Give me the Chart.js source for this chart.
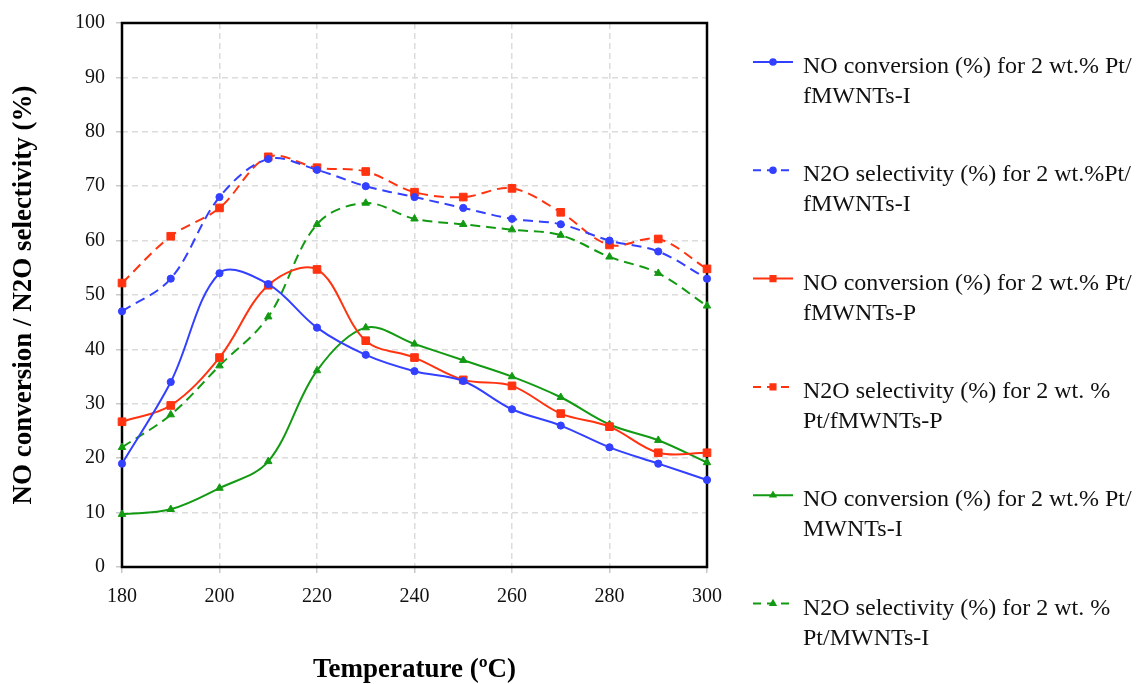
<!DOCTYPE html>
<html>
<head>
<meta charset="utf-8">
<style>
  html, body { margin: 0; padding: 0; background: #ffffff; }
  #wrap { width: 1136px; height: 684px; position: relative; }
</style>
<script src="https://cdn.jsdelivr.net/npm/chart.js@4/dist/chart.umd.min.js"></script>
</head>
<body>
<div id="wrap"><canvas id="chart" width="1136" height="684"></canvas></div>
<script>
// Reaction temperature (°C)
const temperatures = [180, 190, 200, 210, 220, 230, 240, 250, 260, 270, 280, 290, 300];

// 2 wt.% Pt/fMWNTs-I
const noConversionFI = [19, 34, 54, 52, 44, 39, 36, 34.2, 29, 26, 22, 19, 16];
const n2oSelectivityFI = [47, 53, 68, 75, 73, 70, 68, 66, 64, 63, 60, 58, 53];

// 2 wt.% Pt/fMWNTs-P
const noConversionFP = [26.7, 29.7, 38.5, 51.8, 54.7, 41.6, 38.5, 34.4, 33.3, 28.2, 25.8, 21, 21];
const n2oSelectivityFP = [52.2, 60.8, 66, 75.4, 73.4, 72.7, 68.9, 68, 69.6, 65.2, 59.2, 60.3, 54.8];

// 2 wt.% Pt/MWNTs-I
const noConversionMI = [9.7, 10.6, 14.5, 19.4, 36.1, 44, 41, 38, 35, 31.2, 26.2, 23.3, 19.2];
const n2oSelectivityMI = [22, 28, 37, 46, 63, 66.9, 64, 63, 62, 61, 57, 54, 48];

// Legend texts, two lines each
const seriesLabels = [
  ['NO conversion (%) for 2 wt.% Pt/', 'fMWNTs-I'],
  ['N2O selectivity (%) for 2 wt.%Pt/', 'fMWNTs-I'],
  ['NO conversion (%) for 2 wt.% Pt/', 'fMWNTs-P'],
  ['N2O selectivity (%) for 2 wt. %', 'Pt/fMWNTs-P'],
  ['NO conversion (%) for 2 wt.% Pt/', 'MWNTs-I'],
  ['N2O selectivity (%) for 2 wt. %', 'Pt/MWNTs-I']
];

const yTickValues = [0, 10, 20, 30, 40, 50, 60, 70, 80, 90, 100];
const xTickValues = [180, 200, 220, 240, 260, 280, 300];

const BLUE = '#3340ff';
const RED = '#ff3310';
const GREEN = '#139a13';
const SERIF = "'Liberation Serif', 'Times New Roman', serif";

function toPoints(values) {
  return temperatures.map((t, i) => ({ x: t, y: values[i] }));
}

function series(label, values, color, dashed, pointStyle, radius) {
  return {
    label: label,
    data: toPoints(values),
    borderColor: color,
    backgroundColor: color,
    pointBackgroundColor: color,
    pointBorderColor: color,
    borderWidth: 2,
    borderDash: dashed ? [10, 6] : [],
    pointStyle: pointStyle,
    pointRadius: radius,
    pointBorderWidth: 1,
    tension: 0.35,
    fill: false,
    clip: 10
  };
}

// Black frame around the plotting area
const framePlugin = {
  id: 'frame',
  beforeDatasetsDraw(chart) {
    const a = chart.chartArea;
    const ctx = chart.ctx;
    ctx.save();
    ctx.strokeStyle = '#000000';
    ctx.lineWidth = 2.5;
    ctx.setLineDash([]);
    ctx.strokeRect(a.left, a.top, a.right - a.left, a.bottom - a.top);
    ctx.restore();
  }
};

// Legend on the right with two-line entries
const sideLegendPlugin = {
  id: 'sideLegend',
  afterDraw(chart) {
    const ctx = chart.ctx;
    const x0 = 753, x1 = 793, textX = 803;
    const firstY = 62, step = 108.3;
    ctx.save();
    chart.data.datasets.forEach((ds, i) => {
      const y = firstY + i * step;
      ctx.strokeStyle = ds.borderColor;
      ctx.lineWidth = 2;
      ctx.setLineDash(ds.borderDash && ds.borderDash.length ? [8, 6] : []);
      ctx.beginPath();
      ctx.moveTo(x0, y);
      ctx.lineTo(x1, y);
      ctx.stroke();
      ctx.setLineDash([]);
      ctx.fillStyle = ds.borderColor;
      Chart.helpers.drawPoint(ctx, {
        pointStyle: ds.pointStyle,
        radius: ds.pointStyle === 'rect' ? 3.6 : 2.8,
        borderWidth: 1,
        rotation: 0
      }, (x0 + x1) / 2, y);
      ctx.fillStyle = '#111111';
      ctx.font = '24px ' + SERIF;
      ctx.textAlign = 'left';
      ctx.textBaseline = 'alphabetic';
      const lines = Array.isArray(ds.label) ? ds.label : [ds.label];
      lines.forEach((line, k) => {
        ctx.fillText(line, textX, y + 11 + k * 30);
      });
    });
    ctx.restore();
  }
};

Chart.defaults.font.family = SERIF;
Chart.defaults.color = '#111111';

new Chart(document.getElementById('chart'), {
  type: 'line',
  data: {
    datasets: [
      series(seriesLabels[0], noConversionFI, BLUE, false, 'circle', 3.6),
      series(seriesLabels[1], n2oSelectivityFI, BLUE, true, 'circle', 3.6),
      series(seriesLabels[2], noConversionFP, RED, false, 'rect', 5.4),
      series(seriesLabels[3], n2oSelectivityFP, RED, true, 'rect', 5.4),
      series(seriesLabels[4], noConversionMI, GREEN, false, 'triangle', 4.3),
      series(seriesLabels[5], n2oSelectivityMI, GREEN, true, 'triangle', 4.3)
    ]
  },
  options: {
    responsive: false,
    animation: false,
    devicePixelRatio: 1,
    layout: { padding: { top: 21, right: 429, bottom: 0, left: 0 } },
    plugins: {
      legend: { display: false },
      tooltip: { enabled: false }
    },
    scales: {
      x: {
        type: 'linear',
        min: 180,
        max: 300,
        afterBuildTicks(scale) {
          scale.ticks = xTickValues.map(v => ({ value: v }));
        },
        afterFit(scale) { scale.height = 117; },
        grid: {
          color: '#dcdcdc',
          lineWidth: 1.5,
          tickLength: 6,
          tickColor: '#c8c8c8',
          tickBorderDash: []
        },
        border: { display: false, dash: [6, 4] },
        ticks: {
          font: { size: 20, family: SERIF },
          color: '#111111',
          padding: 12,
          maxRotation: 0
        },
        title: {
          display: true,
          text: 'Temperature (ºC)',
          font: { size: 27, weight: 'bold', family: SERIF, lineHeight: 1 },
          color: '#000000',
          padding: { top: 0, bottom: 0 }
        }
      },
      y: {
        type: 'linear',
        min: 0,
        max: 100,
        afterBuildTicks(scale) {
          scale.ticks = yTickValues.map(v => ({ value: v }));
        },
        afterFit(scale) { scale.width = 122; },
        grid: {
          color: '#dcdcdc',
          lineWidth: 1.5,
          tickLength: 6,
          tickColor: '#c8c8c8',
          tickBorderDash: []
        },
        border: { display: false, dash: [6, 4] },
        ticks: {
          font: { size: 20, family: SERIF },
          color: '#111111',
          padding: 11
        },
        title: {
          display: true,
          text: 'NO conversion / N2O selectivity (%)',
          font: { size: 27, weight: 'bold', family: SERIF, lineHeight: 1.2 },
          color: '#000000',
          padding: { top: 8, bottom: 0 }
        }
      }
    }
  },
  plugins: [framePlugin, sideLegendPlugin]
});
</script>
</body>
</html>
